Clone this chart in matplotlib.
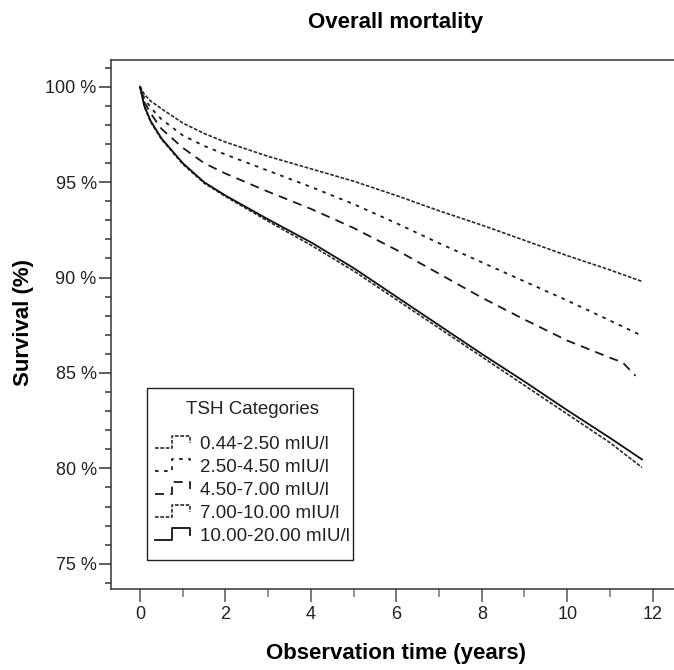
import matplotlib
matplotlib.use("Agg")
import matplotlib.pyplot as plt
from matplotlib.lines import Line2D
from matplotlib.patches import Rectangle
from matplotlib.legend_handler import HandlerBase
from matplotlib.ticker import MultipleLocator, FuncFormatter

plt.rcParams['font.family'] = ['Liberation Sans', 'DejaVu Sans']

# Kaplan-Meier survival (%) by TSH category
categories = ["0.44-2.50 mIU/l", "2.50-4.50 mIU/l", "4.50-7.00 mIU/l",
              "7.00-10.00 mIU/l", "10.00-20.00 mIU/l"]

years_a = [0, 0.1, 0.25, 0.5, 1, 1.5, 2, 3, 4, 5, 6, 7, 8, 9, 10, 11, 11.75]
surv_044_250 = [100, 99.6, 99.25, 98.85, 98.1, 97.55, 97.1, 96.35, 95.7, 95.05,
                94.3, 93.5, 92.75, 91.95, 91.15, 90.4, 89.8]
surv_250_450 = [100, 99.4, 98.9, 98.3, 97.45, 96.9, 96.45, 95.6, 94.75, 93.85,
                92.85, 91.8, 90.8, 89.8, 88.8, 87.75, 86.95]

years_b = [0, 0.1, 0.25, 0.5, 1, 1.5, 2, 3, 4, 5, 6, 7, 8, 9, 10, 11, 11.3, 11.6]
surv_450_700 = [100, 99.2, 98.6, 97.8, 96.8, 96.0, 95.45, 94.5, 93.6, 92.6,
                91.45, 90.2, 88.95, 87.8, 86.7, 85.8, 85.55, 84.85]

surv_700_1000 = [100, 98.95, 98.15, 97.25, 95.95, 94.95, 94.25, 92.95, 91.7, 90.35,
                 88.85, 87.35, 85.85, 84.35, 82.85, 81.35, 80.05]
surv_1000_2000 = [100, 99.0, 98.2, 97.3, 96.0, 95.0, 94.3, 93.05, 91.85, 90.5,
                  89.0, 87.5, 86.0, 84.55, 83.05, 81.6, 80.47]

series = [
    (years_a, surv_044_250, dict(color="#2a2a2a", lw=1.2, linestyle=(0, (2.2, 1.0)))),
    (years_a, surv_250_450, dict(color="#1a1a1a", lw=1.3, linestyle=(0, (2.0, 3.0)))),
    (years_b, surv_450_700, dict(color="#1a1a1a", lw=1.3, linestyle=(0, (5.0, 3.5)))),
    (years_a, surv_700_1000, dict(color="#2a2a2a", lw=1.2, linestyle=(0, (2.2, 1.0)))),
    (years_a, surv_1000_2000, dict(color="#111111", lw=1.3, linestyle="-")),
]

fig = plt.figure(figsize=(6.74, 6.70), dpi=100)
ax = fig.add_axes([0.1643, 0.1209, 0.8357, 0.7895])

handles = []
for (x, y, style), label in zip(series, categories):
    ln, = ax.plot(x, y, label=label, **style)
    handles.append(ln)

ax.set_xlim(-0.686, 12.5)
ax.set_ylim(73.68, 101.4)

ax.xaxis.set_major_locator(MultipleLocator(2))
ax.xaxis.set_minor_locator(MultipleLocator(1))
ax.yaxis.set_major_locator(MultipleLocator(5))
ax.yaxis.set_minor_locator(MultipleLocator(1))
ax.yaxis.set_major_formatter(FuncFormatter(lambda v, p: f"{v:.0f} %"))

spine_col = "#333333"
for side in ("left", "bottom", "top"):
    ax.spines[side].set_color(spine_col)
    ax.spines[side].set_linewidth(1.1)
ax.spines["right"].set_visible(False)

ax.tick_params(axis="y", which="major", length=8.6, width=1.1, color=spine_col,
               pad=1.5, labelsize=13, labelcolor="#222222")
ax.tick_params(axis="y", which="minor", length=4.3, width=1.1, color=spine_col)
ax.tick_params(axis="x", which="major", length=9.4, width=1.1, color="#555555",
               pad=3, labelsize=13, labelcolor="#222222")
ax.tick_params(axis="x", which="minor", length=5.8, width=1.1, color="#777777")

ax.set_xlabel("Observation time (years)", fontsize=16, fontweight="bold")
ax.set_ylabel("Survival (%)", fontsize=16, fontweight="bold")
ax.xaxis.set_label_coords(0.5056, -0.102)
ax.yaxis.set_label_coords(-0.136, 0.504)

fig.text(396 / 674, 1 - 28.3 / 670, "Overall mortality", ha="center", va="baseline",
         fontsize=16, fontweight="bold")


class StepHandler(HandlerBase):
    """Draws a small step glyph using the line style of each curve."""

    def create_artists(self, legend, orig_handle, xdescent, ydescent,
                       width, height, fontsize, trans):
        x0, y0 = -xdescent, -ydescent
        xs = [x0, x0 + 0.45 * width, x0 + 0.45 * width, x0 + 0.95 * width, x0 + 0.95 * width]
        ys = [y0, y0, y0 + height, y0 + height, y0 + 0.45 * height]
        ln = Line2D(xs, ys)
        ln.update_from(orig_handle)
        ln.set_transform(trans)
        return [ln]


# legend frame drawn as its own box (taller than the packed entries)
ax.add_patch(Rectangle((0.0644, 0.0548), 0.3657, 0.3251, transform=ax.transAxes,
                       facecolor="white", edgecolor="#222222", linewidth=1.0,
                       zorder=4))

leg = ax.legend(handles=handles, labels=categories, title="TSH Categories",
                loc="lower left", bbox_to_anchor=(0.0609, 0.0643), borderaxespad=0,
                fontsize=13.5, title_fontsize=13.5, frameon=False,
                handlelength=1.95, handleheight=0.6, handletextpad=0.42,
                labelspacing=0.32, borderpad=0.55,
                handler_map={Line2D: StepHandler()})
leg.set_zorder(5)
leg.get_title().set_color("#222222")
for txt in leg.get_texts():
    txt.set_color("#222222")
# extra room between the legend title and its entries
leg._legend_box.sep = 12.5

fig.savefig("out.png", dpi=100)
